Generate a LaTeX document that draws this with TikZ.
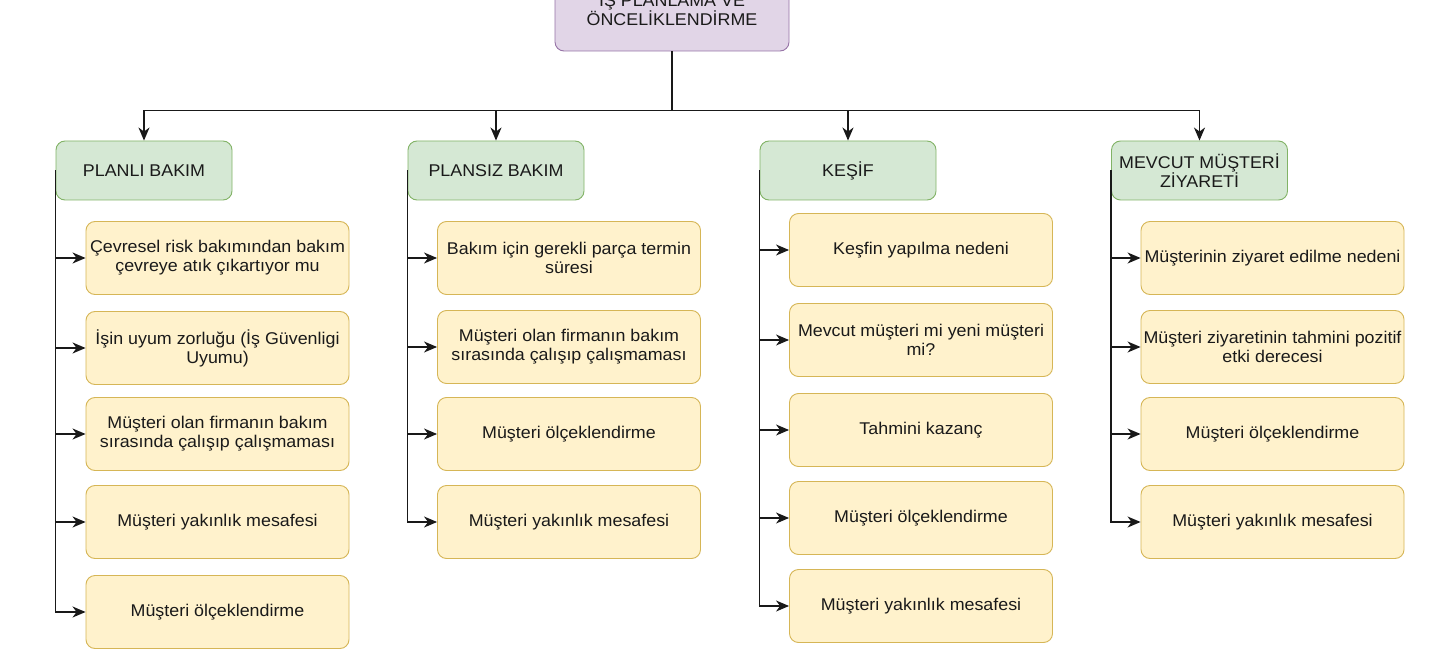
\documentclass[tikz,border=0pt]{standalone}
\usepackage{fontspec}
\setmainfont{Liberation Sans}[FakeStretch=1.05]
\usetikzlibrary{arrows.meta}
\definecolor{gfill}{HTML}{D5E8D4}\definecolor{gdraw}{HTML}{82B366}
\definecolor{yfill}{HTML}{FFF2CC}\definecolor{ydraw}{HTML}{D6B656}
\definecolor{pfill}{HTML}{E1D5E7}\definecolor{pdraw}{HTML}{9673A6}
\definecolor{txt}{HTML}{1A1A1A}
\begin{document}
\begin{tikzpicture}[x=1pt,y=-1pt,
 box/.style={draw, rounded corners=9pt, line width=0.9pt, align=center, inner sep=0pt,
   font=\fontsize{17}{19}\selectfont, text=txt},
 catbox/.style={box, fill=gfill, draw=gdraw, minimum width=176pt, minimum height=59pt},
 itembox/.style={box, fill=yfill, draw=ydraw, minimum width=263pt, minimum height=73pt},
 rootbox/.style={box, fill=pfill, draw=pdraw, minimum width=234pt, minimum height=85pt},
 link/.style={line width=1.4pt, draw=black!90},
 conn/.style={link, -{Stealth[length=13pt,width=11pt,inset=4pt]}}
]
\useasboundingbox (0,0) rectangle (1445,655);
\fill[white] (0,0) rectangle (1445,655);

\node[rootbox] (root) at (672,8.5) {İŞ PLANLAMA VE\\ÖNCELİKLENDİRME};
\coordinate (j) at (672,110.7);

\node[catbox] (c1) at (144,170.5) {PLANLI BAKIM};
\node[catbox] (c2) at (496,170.5) {PLANSIZ BAKIM};
\node[catbox] (c3) at (848,170.5) {KEŞİF};
\node[catbox] (c4) at (1199.5,170.5) {MEVCUT MÜŞTERİ\\ZİYARETİ};

\draw[link] (root.south) -- (j);
\foreach \c in {c1,c2,c3,c4}{\draw[conn] (j) -| (\c.north);}

% column 1
\node[itembox] (a1) at (217.5,258) {Çevresel risk bakımından bakım\\çevreye atık çıkartıyor mu};
\node[itembox] (a2) at (217.5,348) {İşin uyum zorluğu (İş Güvenligi\\Uyumu)};
\node[itembox] (a3) at (217.5,434) {Müşteri olan firmanın bakım\\sırasında çalışıp çalışmaması};
\node[itembox] (a4) at (217.5,522) {Müşteri yakınlık mesafesi};
\node[itembox] (a5) at (217.5,612) {Müşteri ölçeklendirme};
% column 2
\node[itembox] (b1) at (569,258) {Bakım için gerekli parça termin\\süresi};
\node[itembox] (b2) at (569,347) {Müşteri olan firmanın bakım\\sırasında çalışıp çalışmaması};
\node[itembox] (b3) at (569,434) {Müşteri ölçeklendirme};
\node[itembox] (b4) at (569,522) {Müşteri yakınlık mesafesi};
% column 3
\node[itembox] (d1) at (921,250) {Keşfin yapılma nedeni};
\node[itembox] (d2) at (921,340) {Mevcut müşteri mi yeni müşteri\\mi?};
\node[itembox] (d3) at (921,430) {Tahmini kazanç};
\node[itembox] (d4) at (921,518) {Müşteri ölçeklendirme};
\node[itembox] (d5) at (921,606) {Müşteri yakınlık mesafesi};
% column 4
\node[itembox] (e1) at (1272.5,258) {Müşterinin ziyaret edilme nedeni};
\node[itembox] (e2) at (1272.5,347) {Müşteri ziyaretinin tahmini pozitif\\etki derecesi};
\node[itembox] (e3) at (1272.5,434) {Müşteri ölçeklendirme};
\node[itembox] (e4) at (1272.5,522) {Müşteri yakınlık mesafesi};

\foreach \n in {a1,a2,a3,a4,a5}{\draw[conn] (c1.west) |- (\n.west);}
\foreach \n in {b1,b2,b3,b4}{\draw[conn] (c2.west) |- (\n.west);}
\foreach \n in {d1,d2,d3,d4,d5}{\draw[conn] (c3.west) |- (\n.west);}
\foreach \n in {e1,e2,e3,e4}{\draw[conn] (c4.west) |- (\n.west);}
\end{tikzpicture}
\end{document}
